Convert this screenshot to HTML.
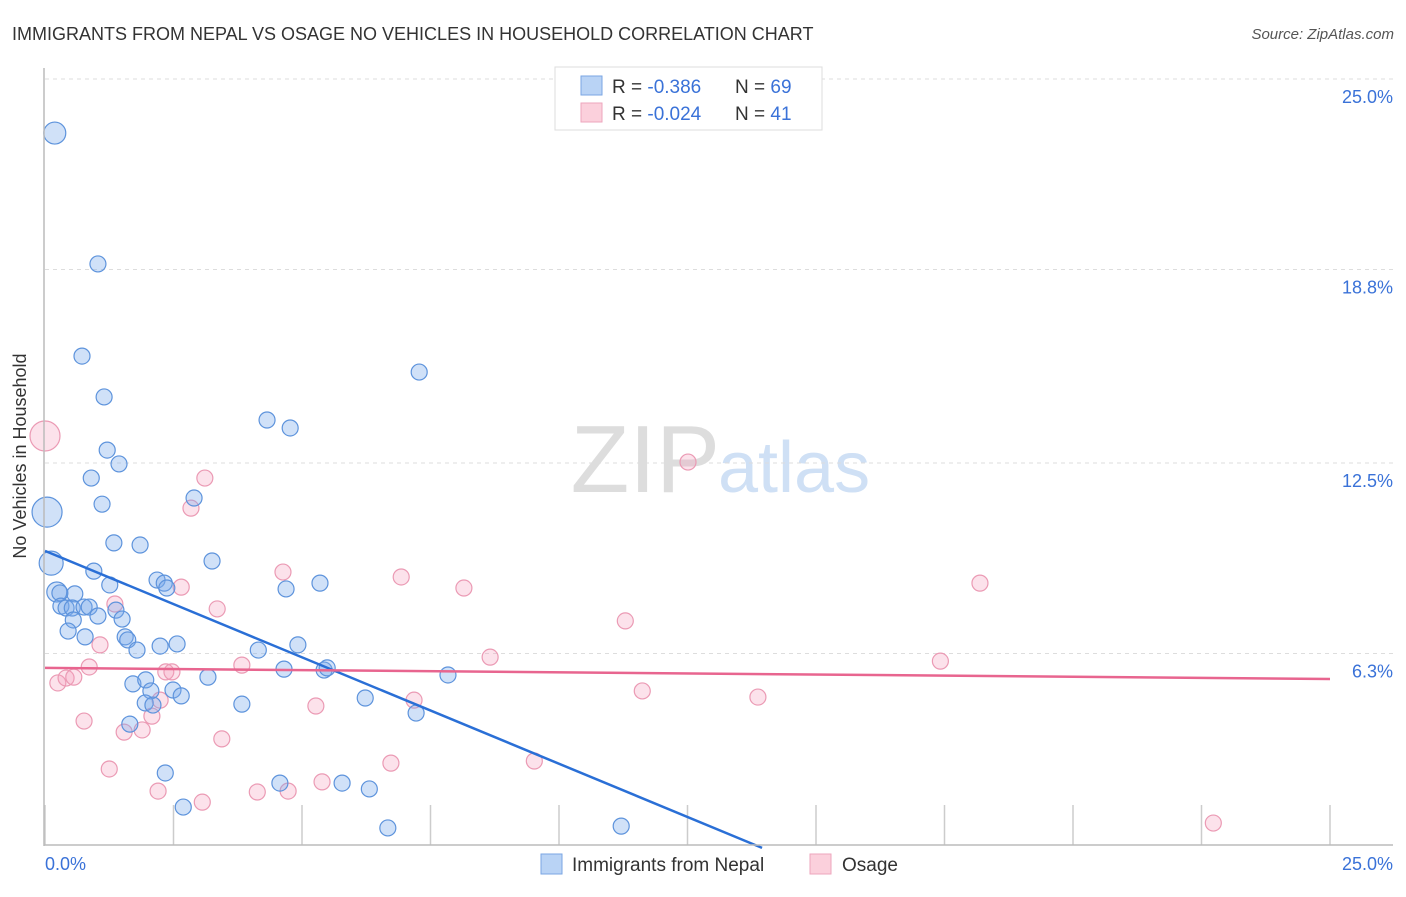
<!DOCTYPE html>
<html><head><meta charset="utf-8"><style>
body{margin:0;background:#fff;font-family:"Liberation Sans",sans-serif;}
svg text{font-family:"Liberation Sans",sans-serif;}
</style></head><body>
<svg id="c" width="1406" height="892" xmlns="http://www.w3.org/2000/svg">
<text x="12" y="40" font-size="18" fill="#333">IMMIGRANTS FROM NEPAL VS OSAGE NO VEHICLES IN HOUSEHOLD CORRELATION CHART</text>
<text x="1394" y="39" font-size="15" fill="#555" font-style="italic" text-anchor="end">Source: ZipAtlas.com</text>
<text x="720" y="492" font-size="96" fill="#ddd" text-anchor="end" font-family="Liberation Serif">ZIP</text>
<text x="718" y="492" font-size="72" fill="#cfe0f5">atlas</text>
<g id="grid"></g>
<g id="pts"></g>
<g id="lines"></g>
<line x1="44" y1="68" x2="44" y2="846" stroke="#bbb" stroke-width="1.5"/>
<line x1="44" y1="845" x2="1393" y2="845" stroke="#bbb" stroke-width="1.5"/>
<text x="26" y="456" font-size="18" fill="#333" transform="rotate(-90 26 456)" text-anchor="middle">No Vehicles in Household</text>
<text x="45" y="870" font-size="18" fill="#3a72d8">0.0%</text>
<text x="1393" y="870" font-size="18" fill="#3a72d8" text-anchor="end">25.0%</text>
<g>
<rect x="555" y="67" width="267" height="63" fill="#fff" stroke="#ddd"/>
<rect x="581" y="76" width="21" height="19" fill="#b9d3f5" stroke="#7aa6e3"/>
<rect x="581" y="103" width="21" height="19" fill="#fbd0dc" stroke="#eea6bd"/>
<text x="612" y="93" font-size="19" fill="#333">R = <tspan fill="#3a72d8">-0.386</tspan><tspan x="735">N = </tspan><tspan fill="#3a72d8">69</tspan></text>
<text x="612" y="120" font-size="19" fill="#333">R = <tspan fill="#3a72d8">-0.024</tspan><tspan x="735">N = </tspan><tspan fill="#3a72d8"> 41</tspan></text>
</g>
<g>
<rect x="541" y="854" width="21" height="20" fill="#b9d3f5" stroke="#7aa6e3"/>
<text x="572" y="871" font-size="19" fill="#333">Immigrants from Nepal</text></g>
<g>
<rect x="810" y="854" width="21" height="20" fill="#fbd0dc" stroke="#eea6bd"/>
<text x="842" y="871" font-size="19" fill="#333">Osage</text></g>
</svg>
<script>
const yTicks=[25.0,18.8,12.5,6.3];
const xTicks=[0,2.5,5,7.5,10,12.5,15,17.5,20,22.5,25];
const blueX=[0.19,1.03,0.72,1.15,1.21,1.44,0.90,1.11,0.04,2.90,1.34,1.85,3.25,0.12,0.95,1.26,2.18,2.32,2.37,5.35,4.69,0.23,0.29,0.58,0.31,0.41,0.53,0.76,0.86,1.03,0.55,1.38,1.50,0.45,0.78,1.56,1.61,1.79,2.24,2.57,4.92,4.15,4.65,5.43,5.49,3.17,7.84,1.71,1.96,2.06,2.49,2.65,1.95,2.10,3.83,6.23,7.22,1.65,2.34,4.57,5.78,6.31,2.69,6.67,11.21,4.32,4.77,7.28];
const blueY=[23.24,18.98,15.98,14.65,12.92,12.47,12.01,11.16,10.9,11.36,9.90,9.83,9.31,9.24,8.98,8.53,8.69,8.59,8.43,8.59,8.40,8.30,8.27,8.24,7.84,7.78,7.78,7.81,7.81,7.52,7.39,7.71,7.42,7.03,6.84,6.84,6.74,6.41,6.54,6.61,6.58,6.41,5.79,5.76,5.83,5.53,5.60,5.31,5.44,5.08,5.11,4.92,4.69,4.62,4.65,4.85,4.36,4.00,2.41,2.08,2.08,1.89,1.30,0.62,0.68,13.90,13.64,15.46];
const blueR=[11,8,8,8,8,8,8,8,15,8,8,8,8,12,8,8,8,8,8,8,8,10,8,8,8,8,8,8,8,8,8,8,8,8,8,8,8,8,8,8,8,8,8,8,8,8,8,8,8,8,8,8,8,8,8,8,8,8,8,8,8,8,8,8,8,8,8,8];
const pinkX=[0,3.11,12.51,2.84,4.63,6.93,8.15,18.19,2.65,1.36,3.35,11.29,1.07,8.66,17.42,0.86,3.83,2.35,2.47,0.25,0.41,0.56,11.62,13.87,7.18,5.27,2.24,2.08,0.76,1.89,1.54,3.44,6.73,9.52,1.25,5.39,2.20,4.13,4.73,3.06,22.73];
const pinkY=[13.38,12.01,12.53,11.03,8.95,8.79,8.43,8.59,8.46,7.91,7.75,7.36,6.58,6.18,6.05,5.86,5.92,5.70,5.70,5.34,5.50,5.53,5.08,4.88,4.78,4.59,4.78,4.26,4.10,3.81,3.74,3.52,2.73,2.80,2.54,2.12,1.82,1.79,1.82,1.46,0.78];
const blueLine=[9.64,-0.693];
const pinkLine=[5.83,-0.0144];
const X=v=>45+v/25*1285, Y=v=>847-v/25*768;
const NS='http://www.w3.org/2000/svg';
function mk(t,a,p){const e=document.createElementNS(NS,t);for(const k in a)e.setAttribute(k,a[k]);p.appendChild(e);return e;}
const grid=document.getElementById('grid');
yTicks.forEach(v=>{
 const l=mk('line',{x1:45,x2:1393,y1:Y(v),y2:Y(v),stroke:'#ddd','stroke-dasharray':'4,4'},grid);
 
 
 const t=mk('text',{x:1393,y:Y(v)+24,'font-size':18,fill:'#3a72d8','text-anchor':'end'},grid);
 t.textContent=v.toFixed(1)+'%';
 
 
});
xTicks.forEach(v=>{
 const l=mk('line',{x1:X(v),x2:X(v),y1:805,y2:845,stroke:'#ccc','stroke-width':1.5},grid);
 
 
});
const pts=document.getElementById('pts');
pinkX.forEach((v,i)=>{
 const c=mk('circle',{cx:X(v),cy:Y(pinkY[i]),r:i==0?15:8,fill:'rgba(245,160,190,0.3)',stroke:'#eb9ab4','stroke-width':1.2},pts);
 
 
});
blueX.forEach((v,i)=>{
 const c=mk('circle',{cx:X(v),cy:Y(blueY[i]),r:blueR[i],fill:'rgba(120,170,235,0.35)',stroke:'#5d93dc','stroke-width':1.2},pts);
 
 
});
const lines=document.getElementById('lines');
const bx2=-blueLine[0]/blueLine[1]+0.04;
const bl=mk('line',{x1:X(0),y1:Y(blueLine[0]),x2:X(bx2),y2:Y(blueLine[0]+blueLine[1]*bx2),stroke:'#2a6fd6','stroke-width':2.5},lines);


const pl=mk('line',{x1:X(0),y1:Y(pinkLine[0]),x2:X(25),y2:Y(pinkLine[0]+pinkLine[1]*25),stroke:'#e8658f','stroke-width':2.5},lines);


</script>
</body></html>
